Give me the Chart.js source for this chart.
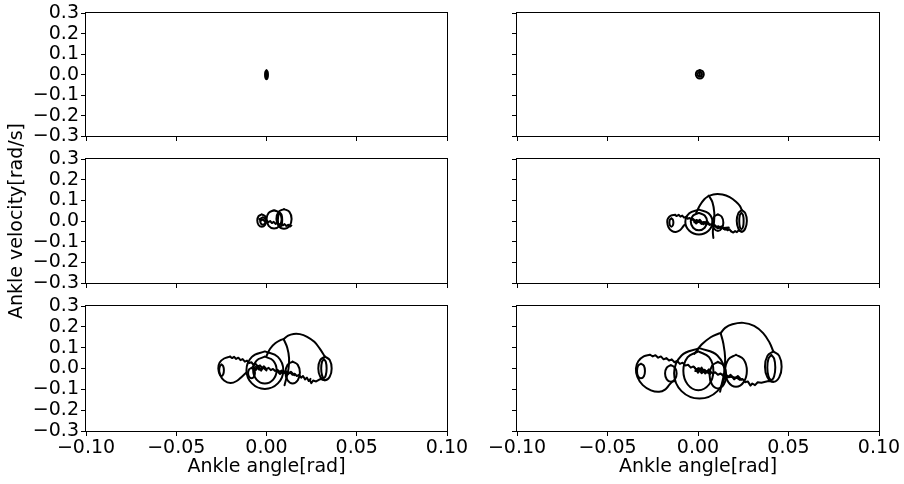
<!DOCTYPE html>
<html>
<head>
<meta charset="utf-8">
<script src="https://cdn.jsdelivr.net/npm/chart.js@4.4.1/dist/chart.umd.min.js"></script>
<style>
  html, body { margin: 0; padding: 0; background: #fff; }
  #wrap { position: relative; width: 904px; height: 484px; overflow: hidden; }
  #wrap canvas { position: absolute; left: 0; top: 0; }
</style>
</head>
<body>
<div id="wrap"></div>
<script>
// axis ticks and labels
const X_TICKS = [-0.1, -0.05, 0, 0.05, 0.1];
const Y_TICKS = [-0.3, -0.2, -0.1, 0, 0.1, 0.2, 0.3];
const X_LABEL = 'Ankle angle[rad]';
const Y_LABEL = 'Ankle velocity[rad/s]';

// --- top left: tiny blob at the origin
const A_LOOP_OUT = [[0,0.022],[0.00057,0.0156],[0.0008,0],[0.00057,-0.0156],[0,-0.022],[-0.00057,-0.0156],[-0.0008,0],[-0.00057,0.0156],[0,0.022]];
const A_LOOP_IN = [[0,0.014],[0.00028,0.0099],[0.0004,0],[0.00028,-0.0099],[0,-0.014],[-0.00028,-0.0099],[-0.0004,0],[-0.00028,0.0099],[0,0.014]];

// --- top right
const B_LOOP_OUT = [[0.001,0.023],[0.00256,0.0168],[0.0032,0.002],[0.00256,-0.0128],[0.001,-0.019],[-0.00056,-0.0128],[-0.0012,0.002],[-0.00056,0.0168],[0.001,0.023]];
const B_LOOP_IN = [[0.001,0.014],[0.00185,0.0105],[0.0022,0.002],[0.00185,-0.0065],[0.001,-0.010],[0.00015,-0.0065],[-0.0002,0.002],[0.00015,0.0105],[0.001,0.014]];
const B_CORE = [[0.001,0.010],[0.001,-0.006]];

// --- middle left
const C_BLOB_OUT = [[-0.0026,0.032],[-0.0008,0.0232],[-0.0001,0.002],[-0.0008,-0.0192],[-0.0026,-0.028],[-0.0044,-0.0192],[-0.0051,0.002],[-0.0044,0.0232],[-0.0026,0.032]];
const C_BLOB_IN = [[-0.002,0.018],[-0.00094,0.0127],[-0.0005,0],[-0.00094,-0.0127],[-0.002,-0.018],[-0.00306,-0.0127],[-0.0035,0],[-0.00306,0.0127],[-0.002,0.018]];
const C_LOOP_1 = [[0.0042,0.052],[0.0072,0.0391],[0.0084,0.008],[0.0072,-0.0231],[0.0042,-0.036],[0.0012,-0.0231],[0,0.008],[0.0012,0.0391],[0.0042,0.052]];
const C_LOOP_2 = [[0.0097,0.058],[0.0127,0.0439],[0.0139,0.010],[0.0127,-0.0239],[0.0097,-0.038],[0.0067,-0.0239],[0.0055,0.010],[0.0067,0.0439],[0.0097,0.058]];
const C_LENS = [[0.0075,0.040],[0.00835,0.0297],[0.0087,0.005],[0.00835,-0.0197],[0.0075,-0.030],[0.00665,-0.0197],[0.0063,0.005],[0.00665,0.0297],[0.0075,0.040]];
const C_JAG = [[-0.004,0.010],[-0.003,0.002],[-0.002,0.008],[-0.001,-0.002],[0,0.004],[0.001,-0.006],[0.002,0],[0.003,-0.010],[0.004,-0.004],[0.005,-0.014],[0.006,-0.008],[0.007,-0.018],[0.008,-0.012],[0.009,-0.021],[0.010,-0.015],[0.011,-0.024],[0.012,-0.018],[0.013,-0.027],[0.0138,-0.022]];

// --- middle right
const D_BULB = [[-0.0125,0.030],[-0.0150,0.026],[-0.0166,0.012],[-0.0170,-0.004],[-0.0163,-0.030],[-0.0145,-0.048],[-0.0122,-0.053],[-0.0100,-0.045],[-0.0085,-0.030],[-0.0075,-0.018]];
const D_BULB_IN = [[-0.0147,0.0127],[-0.0139,0.0068],[-0.0136,-0.0073],[-0.0139,-0.0214],[-0.0147,-0.0273],[-0.0155,-0.0214],[-0.0158,-0.0073],[-0.0155,0.0068],[-0.0147,0.0127]];
const D_CIRCLE_BIG = [[0.0005,0.055],[0.0058,0.0374],[0.0080,-0.005],[0.0058,-0.0474],[0.0005,-0.065],[-0.0048,-0.0474],[-0.0070,-0.005],[-0.0048,0.0374],[0.0005,0.055]];
const D_CIRCLE_MID = [[0.0005,0.039],[0.0037,0.0267],[0.0050,-0.003],[0.0037,-0.0327],[0.0005,-0.045],[-0.0027,-0.0327],[-0.0040,-0.003],[-0.0027,0.0267],[0.0005,0.039]];
const D_LOOP_R = [[0.011,0.032],[0.0131,0.0203],[0.014,-0.008],[0.0131,-0.0363],[0.011,-0.048],[0.0089,-0.0363],[0.008,-0.008],[0.0089,0.0203],[0.011,0.032]];
const D_RISE = [[-0.0010,0.040],[0.0010,0.075],[0.0035,0.105],[0.0060,0.122]];
const D_ARC = [[0.0060,0.122],[0.0095,0.130],[0.0135,0.128],[0.0175,0.115],[0.0210,0.093],[0.0232,0.072],[0.0242,0.053]];
const D_LENS = [[0.0060,0.122],[0.0080,0.090],[0.0090,0.040],[0.0088,-0.010],[0.0082,-0.050],[0.0085,-0.082]];
const D_END_OUT = [[0.0242,0.0532],[0.0261,0.0378],[0.0270,0.0008],[0.0261,-0.0362],[0.0242,-0.0516],[0.0223,-0.0362],[0.0214,0.0008],[0.0223,0.0378],[0.0242,0.0532]];
const D_END_IN = [[0.0240,0.040],[0.0249,0.0283],[0.0252,0],[0.0249,-0.0283],[0.0240,-0.040],[0.0231,-0.0283],[0.0228,0],[0.0231,0.0283],[0.0240,0.040]];
const D_JAG = [[-0.0127,0.029],[-0.0117,0.024],[-0.0107,0.030],[-0.0097,0.021],[-0.0087,0.026],[-0.0077,0.016],[-0.0067,0.020],[-0.0057,0.011],[-0.0047,0.015],[-0.0037,0.006],[-0.0027,0.010],[-0.0017,0.001],[-0.0007,0.005],[0.0003,-0.004],[0.0013,0],[0.0023,-0.009],[0.0033,-0.005],[0.0043,-0.014],[0.0053,-0.010],[0.0063,-0.019],[0.0073,-0.015],[0.0083,-0.024],[0.0093,-0.020],[0.0103,-0.029],[0.0113,-0.025],[0.0123,-0.034],[0.0133,-0.030],[0.0143,-0.039],[0.0153,-0.035],[0.0163,-0.045],[0.0173,-0.040],[0.0183,-0.050]];
const D_RETURN = [[0.0242,-0.0516],[0.0225,-0.045],[0.0215,-0.054],[0.0205,-0.049],[0.0195,-0.056],[0.0183,-0.050]];
const D_KNOT_1 = [[-0.003,0.008],[-0.001,-0.012],[0.001,0.006],[0.003,-0.016],[0.005,0],[0.0065,-0.018],[0.004,-0.006],[0.002,-0.014],[0,0.002],[-0.002,-0.006],[0.0015,-0.004],[0.004,-0.012]];
const D_KNOT_2 = [[0.009,-0.022],[0.011,-0.036],[0.013,-0.026],[0.015,-0.042],[0.017,-0.032],[0.014,-0.034],[0.012,-0.030]];

// --- bottom left
const E_BULB = [[-0.0202,0.057],[-0.0235,0.048],[-0.0260,0.028],[-0.0267,0],[-0.0258,-0.030],[-0.0235,-0.058],[-0.0200,-0.070],[-0.0165,-0.060],[-0.0135,-0.038],[-0.0110,-0.018]];
const E_BULB_IN = [[-0.0249,0.0195],[-0.0240,0.0113],[-0.0236,-0.0085],[-0.0240,-0.0283],[-0.0249,-0.0365],[-0.0258,-0.0283],[-0.0262,-0.0085],[-0.0258,0.0113],[-0.0249,0.0195]];
const E_NECK = [[-0.0083,0.003],[-0.00696,-0.0043],[-0.0064,-0.022],[-0.00696,-0.0397],[-0.0083,-0.047],[-0.00964,-0.0397],[-0.0102,-0.022],[-0.00964,-0.0043],[-0.0083,0.003]];
const E_CIRCLE_BIG = [[-0.0009,0.082],[0.0063,0.0556],[0.0093,-0.008],[0.0063,-0.0716],[-0.0009,-0.098],[-0.0081,-0.0716],[-0.0111,-0.008],[-0.0081,0.0556],[-0.0009,0.082]];
const E_CIRCLE_MID = [[-0.0009,0.057],[0.0037,0.0381],[0.0056,-0.0075],[0.0037,-0.0531],[-0.0009,-0.072],[-0.0055,-0.0531],[-0.0074,-0.0075],[-0.0055,0.0381],[-0.0009,0.057]];
const E_LOOP_R = [[0.0145,0.033],[0.01733,0.0176],[0.0185,-0.0195],[0.01733,-0.0566],[0.0145,-0.072],[0.01167,-0.0566],[0.0105,-0.0195],[0.01167,0.0176],[0.0145,0.033]];
const E_RISE = [[0,0.060],[0.0020,0.095],[0.0050,0.122],[0.0080,0.137],[0.0095,0.141]];
const E_ARC = [[0.0095,0.141],[0.0120,0.158],[0.0150,0.166],[0.0185,0.165],[0.0225,0.152],[0.0265,0.128],[0.0295,0.095],[0.0324,0.057]];
const E_LENS = [[0.0095,0.141],[0.0115,0.100],[0.0125,0.050],[0.0122,0],[0.0112,-0.040],[0.0100,-0.080]];
const E_END_OUT = [[0.0324,0.057],[0.03502,0.0405],[0.0361,0.0005],[0.03502,-0.0395],[0.0324,-0.056],[0.02978,-0.0395],[0.0287,0.0005],[0.02978,0.0405],[0.0324,0.057]];
const E_END_IN = [[0.0318,0.045],[0.03286,0.0318],[0.0333,0],[0.03286,-0.0318],[0.0318,-0.045],[0.03074,-0.0318],[0.0303,0],[0.03074,0.0318],[0.0318,0.045]];
const E_JAG = [[-0.0202,0.057],[-0.0190,0.050],[-0.0180,0.056],[-0.0168,0.046],[-0.0156,0.052],[-0.0144,0.040],[-0.0132,0.045],[-0.0120,0.033],[-0.0108,0.038],[-0.0096,0.026],[-0.0084,0.030],[-0.0072,0.018],[-0.0060,0.022],[-0.0048,0.010],[-0.0036,0.015],[-0.0024,0.003],[-0.0012,0.008],[0,-0.003],[0.0012,0.003],[0.0024,-0.008],[0.0036,-0.002],[0.0048,-0.012],[0.0060,-0.006],[0.0072,-0.016],[0.0084,-0.010],[0.0096,-0.020],[0.0108,-0.014],[0.0120,-0.025],[0.0132,-0.019],[0.0144,-0.030],[0.0156,-0.025],[0.0168,-0.036],[0.0180,-0.031],[0.0192,-0.044],[0.0202,-0.036],[0.0214,-0.052],[0.0224,-0.044],[0.0234,-0.060],[0.0244,-0.050]];
const E_RETURN = [[0.0324,-0.056],[0.0300,-0.050],[0.0275,-0.062],[0.0258,-0.058],[0.0248,-0.070],[0.0240,-0.056]];
const E_KNOT_1 = [[-0.0075,0.010],[-0.006,-0.008],[-0.0045,0.012],[-0.003,-0.010],[-0.0015,0.010],[0,-0.009],[-0.002,0.006],[-0.004,-0.006],[-0.006,0.008],[-0.0035,-0.002],[-0.001,0.004]];
const E_KNOT_2 = [[0.0056,-0.010],[0.0075,-0.026],[0.0095,-0.012],[0.0115,-0.030],[0.0135,-0.016],[0.0155,-0.032],[0.0140,-0.020],[0.0110,-0.024],[0.0080,-0.016]];

// --- bottom right
const F_BULB = [[-0.0265,0.066],[-0.0300,0.058],[-0.0330,0.035],[-0.0343,0],[-0.0335,-0.040],[-0.0305,-0.080],[-0.0260,-0.105],[-0.0215,-0.112],[-0.0180,-0.100],[-0.0160,-0.080],[-0.0145,-0.066],[-0.0130,-0.060]];
const F_BULB_IN = [[-0.0315,0.023],[-0.0299,0.0127],[-0.0293,-0.012],[-0.0299,-0.0367],[-0.0315,-0.047],[-0.0331,-0.0367],[-0.0337,-0.012],[-0.0331,0.0127],[-0.0315,0.023]];
const F_NECK = [[-0.015,0.016],[-0.01274,0.0043],[-0.0118,-0.024],[-0.01274,-0.0523],[-0.015,-0.064],[-0.01726,-0.0523],[-0.0182,-0.024],[-0.01726,0.0043],[-0.015,0.016]];
const F_CIRCLE_BIG = [[0.0008,0.098],[0.0107,0.0625],[0.0148,-0.023],[0.0107,-0.1085],[0.0008,-0.144],[-0.0091,-0.1085],[-0.0132,-0.023],[-0.0091,0.0625],[0.0008,0.098]];
const F_CIRCLE_MID = [[0.0002,0.082],[0.0061,0.0548],[0.0085,-0.011],[0.0061,-0.0768],[0.0002,-0.104],[-0.0057,-0.0768],[-0.0081,-0.011],[-0.0057,0.0548],[0.0002,0.082]];
const F_LOOP_R = [[0.021,0.066],[0.02524,0.0434],[0.027,-0.011],[0.02524,-0.0654],[0.021,-0.088],[0.01676,-0.0654],[0.015,-0.011],[0.01676,0.0434],[0.021,0.066]];
const F_LOOP_S = [[0.011,0.032],[0.01425,0.0132],[0.0156,-0.032],[0.01425,-0.0772],[0.011,-0.096],[0.00775,-0.0772],[0.0064,-0.032],[0.00775,0.0132],[0.011,0.032]];
const F_RISE = [[-0.0020,0.070],[0.0020,0.115],[0.0070,0.150],[0.0115,0.168],[0.0125,0.170]];
const F_ARC = [[0.0125,0.170],[0.0150,0.195],[0.0190,0.212],[0.0250,0.219],[0.0310,0.205],[0.0360,0.170],[0.0395,0.125],[0.0416,0.082]];
const F_LENS = [[0.0125,0.170],[0.0140,0.120],[0.0150,0.050],[0.0145,-0.020],[0.0130,-0.080],[0.0122,-0.112]];
const F_END_OUT = [[0.0416,0.082],[0.04485,0.0606],[0.0462,0.009],[0.04485,-0.0426],[0.0416,-0.064],[0.03835,-0.0426],[0.037,0.009],[0.03835,0.0606],[0.0416,0.082]];
const F_END_IN = [[0.0405,0.065],[0.04206,0.0474],[0.0427,0.005],[0.04206,-0.0374],[0.0405,-0.055],[0.03894,-0.0374],[0.0383,0.005],[0.03894,0.0474],[0.0405,0.065]];
const F_JAG = [[-0.0265,0.066],[-0.0250,0.058],[-0.0235,0.064],[-0.0220,0.052],[-0.0205,0.058],[-0.0190,0.044],[-0.0175,0.050],[-0.0160,0.038],[-0.0145,0.044],[-0.0130,0.030],[-0.0115,0.036],[-0.0100,0.022],[-0.0085,0.028],[-0.0070,0.014],[-0.0055,0.018],[-0.0040,0.004],[-0.0025,0.010],[-0.0010,-0.004],[0.0005,0.002],[0.0020,-0.012],[0.0035,-0.006],[0.0050,-0.018],[0.0065,-0.012],[0.0080,-0.024],[0.0095,-0.018],[0.0110,-0.030],[0.0125,-0.024],[0.0140,-0.036],[0.0155,-0.030],[0.0170,-0.042],[0.0185,-0.036],[0.0200,-0.048],[0.0215,-0.042],[0.0230,-0.054],[0.0245,-0.050],[0.0255,-0.060]];
const F_RETURN = [[0.0416,-0.064],[0.0390,-0.060],[0.0350,-0.068],[0.0330,-0.066],[0.0315,-0.080],[0.0300,-0.072],[0.0290,-0.082],[0.0275,-0.062],[0.0260,-0.066],[0.0255,-0.060]];
const F_KNOT_1 = [[-0.002,0.006],[0,-0.020],[0.002,0.004],[0.004,-0.024],[0.006,-0.004],[0.0066,-0.028],[0.004,-0.010],[0.002,-0.022],[0,0],[-0.0015,-0.012],[0.002,-0.008],[0.005,-0.018]];
const F_KNOT_2 = [[0.014,-0.026],[0.016,-0.044],[0.018,-0.030],[0.020,-0.052],[0.022,-0.036],[0.024,-0.054],[0.021,-0.044],[0.017,-0.038]];

// layout of the 2x3 grid (pixel edges of each plot area)
const COLS = [{ left: 86, right: 447 }, { left: 517, right: 879 }];
const ROWS = [{ top: 12, bottom: 136 }, { top: 159, bottom: 283 }, { top: 306, bottom: 431 }];

const SMOOTH = 0.4;
const PANELS = [
  { col: 0, row: 0, series: [[A_LOOP_OUT, SMOOTH], [A_LOOP_IN, SMOOTH]] },
  { col: 1, row: 0, series: [[B_LOOP_OUT, SMOOTH], [B_LOOP_IN, SMOOTH], [B_CORE, 0]] },
  { col: 0, row: 1, series: [[C_BLOB_OUT, SMOOTH], [C_BLOB_IN, SMOOTH], [C_LOOP_1, SMOOTH], [C_LOOP_2, SMOOTH], [C_LENS, SMOOTH], [C_JAG, 0]] },
  { col: 1, row: 1, series: [[D_BULB, SMOOTH], [D_BULB_IN, SMOOTH], [D_CIRCLE_BIG, SMOOTH], [D_CIRCLE_MID, SMOOTH], [D_LOOP_R, SMOOTH],
      [D_RISE, SMOOTH], [D_ARC, SMOOTH], [D_LENS, SMOOTH], [D_END_OUT, SMOOTH], [D_END_IN, SMOOTH], [D_JAG, 0], [D_RETURN, 0], [D_KNOT_1, 0], [D_KNOT_2, 0]] },
  { col: 0, row: 2, series: [[E_BULB, SMOOTH], [E_BULB_IN, SMOOTH], [E_NECK, SMOOTH], [E_CIRCLE_BIG, SMOOTH], [E_CIRCLE_MID, SMOOTH], [E_LOOP_R, SMOOTH],
      [E_RISE, SMOOTH], [E_ARC, SMOOTH], [E_LENS, SMOOTH], [E_END_OUT, SMOOTH], [E_END_IN, SMOOTH], [E_JAG, 0], [E_RETURN, 0], [E_KNOT_1, 0], [E_KNOT_2, 0]] },
  { col: 1, row: 2, series: [[F_BULB, SMOOTH], [F_BULB_IN, SMOOTH], [F_NECK, SMOOTH], [F_CIRCLE_BIG, SMOOTH], [F_CIRCLE_MID, SMOOTH], [F_LOOP_R, SMOOTH], [F_LOOP_S, SMOOTH],
      [F_RISE, SMOOTH], [F_ARC, SMOOTH], [F_LENS, SMOOTH], [F_END_OUT, SMOOTH], [F_END_IN, SMOOTH], [F_JAG, 0], [F_RETURN, 0], [F_KNOT_1, 0], [F_KNOT_2, 0]] },
];

const FONT = { family: 'DejaVu Sans', size: 19 };

function fmt(v, digits) {
  if (Math.abs(v) < 1e-9) return (0).toFixed(digits);
  return (v < 0 ? '\u2212' : '') + Math.abs(v).toFixed(digits);
}

// matplotlib-like box around each axes
const frame = {
  id: 'frame',
  afterDraw(chart) {
    const { ctx, chartArea: a } = chart;
    ctx.save();
    ctx.strokeStyle = '#000';
    ctx.lineWidth = 1;
    ctx.strokeRect(Math.round(a.left) - 0.5, Math.round(a.top) - 0.5,
      Math.round(a.right - a.left) + 1, Math.round(a.bottom - a.top) + 1);
    ctx.restore();
  },
};

const wrap = document.getElementById('wrap');

function makeChart(panel) {
  const col = COLS[panel.col];
  const row = ROWS[panel.row];
  const isLeft = panel.col === 0;
  const isBottom = panel.row === 2;
  const hasYTitle = isLeft && panel.row === 1;
  const yW = isLeft ? col.left : 10;
  const xH = isBottom ? 50 : 10;

  const canvas = document.createElement('canvas');
  canvas.width = 904;
  canvas.height = 484;
  wrap.appendChild(canvas);

  const tickGrid = { display: true, drawOnChartArea: false, drawTicks: true, tickLength: 5, color: '#000', tickColor: '#000', tickWidth: 1 };

  return new Chart(canvas, {
    type: 'scatter',
    data: {
      datasets: panel.series.map(([pts, tension]) => ({
        data: pts,
        showLine: true,
        tension,
        borderColor: '#000',
        borderWidth: 2,
        borderJoinStyle: 'round',
        borderCapStyle: 'round',
        pointRadius: 0,
        fill: false,
      })),
    },
    options: {
      responsive: false,
      animation: false,
      devicePixelRatio: 1,
      events: [],
      layout: {
        padding: {
          left: col.left - yW,
          right: 904 - col.right,
          top: row.top,
          bottom: 484 - row.bottom - xH,
        },
      },
      plugins: { legend: { display: false }, tooltip: { enabled: false } },
      scales: {
        x: {
          type: 'linear',
          min: -0.1,
          max: 0.1,
          afterBuildTicks: s => { s.ticks = X_TICKS.map(v => ({ value: v })); },
          afterFit: s => { s.height = xH; },
          grid: tickGrid,
          border: { display: false },
          ticks: {
            autoSkip: false,
            maxRotation: 0,
            minRotation: 0,
            padding: 1,
            color: '#000',
            font: FONT,
            callback: v => (isBottom ? fmt(v, 2) : ''),
          },
          title: {
            display: isBottom,
            text: X_LABEL,
            color: '#000',
            font: FONT,
            padding: { top: 0, bottom: 3 },
          },
        },
        y: {
          type: 'linear',
          min: -0.3,
          max: 0.3,
          afterBuildTicks: s => { s.ticks = Y_TICKS.map(v => ({ value: v })); },
          afterFit: s => { s.width = yW; },
          grid: tickGrid,
          border: { display: false },
          ticks: {
            autoSkip: false,
            padding: 2,
            color: '#000',
            font: FONT,
            callback: v => (isLeft ? fmt(v, 1) : ''),
          },
          title: {
            display: hasYTitle,
            text: Y_LABEL,
            color: '#000',
            font: FONT,
            padding: { top: 6, bottom: 0 },
          },
        },
      },
    },
    plugins: [frame],
  });
}

PANELS.forEach(makeChart);
</script>
</body>
</html>
